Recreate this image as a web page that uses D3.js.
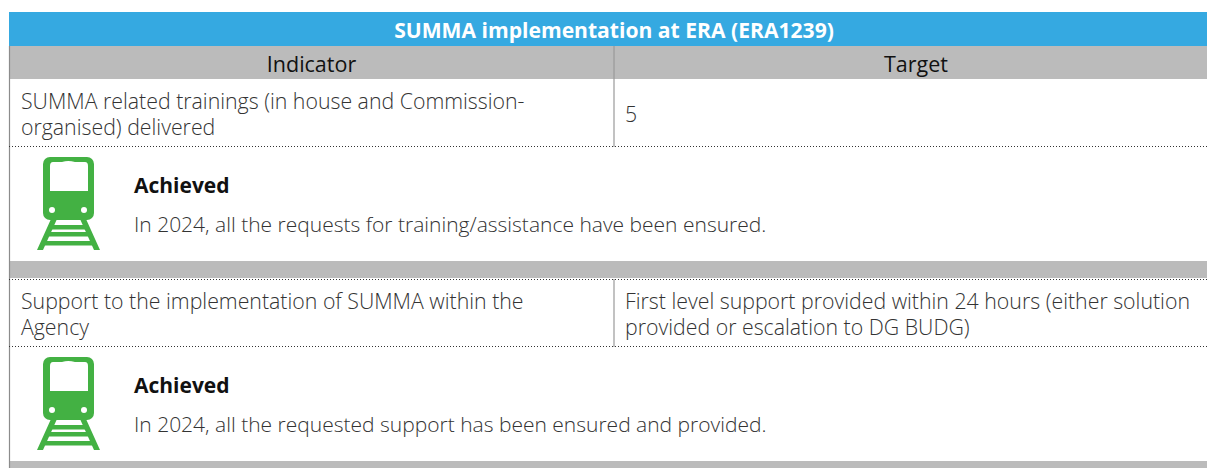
<!DOCTYPE html>
<html>
<head>
<meta charset="utf-8">
<script src="https://cdn.jsdelivr.net/npm/d3@7"></script>
<style>
  html, body { margin: 0; padding: 0; background: #fff; overflow: hidden; }
  text { font-family: "Open Sans", sans-serif; }
</style>
</head>
<body>
<div id="table"></div>
<script>
// table content
var title = "SUMMA implementation at ERA (ERA1239)"
var headers = ["Indicator", "Target"]
var indicators = [
  ["SUMMA related trainings (in house and Commission-", "organised) delivered"],
  ["Support to the implementation of SUMMA within the", "Agency"]
]
var targets = [
  ["5"],
  ["First level support provided within 24 hours (either solution", "provided or escalation to DG BUDG)"]
]
var statuses = ["Achieved", "Achieved"]
var comments = [
  "In 2024, all the requests for training/assistance have been ensured.",
  "In 2024, all the requested support has been ensured and provided."
]

var width = 1207, height = 468
var left = 9, colX = 614
var rowTop = [80, 280]  // top of each indicator row
var rowH = 67
var fs = 21.3

var svg = d3.select("#table").append("svg")
  .attr("width", width)
  .attr("height", height)
  .style("display", "block")

// title bar
svg.append("rect").attr("x", left).attr("y", 12).attr("width", width - left).attr("height", 34).attr("fill", "#35a9e1")
svg.append("text")
  .attr("x", 614).attr("y", 37.5)
  .attr("text-anchor", "middle")
  .attr("fill", "#fff")
  .style("font-size", "21.1px").style("font-weight", 700)
  .text(title)

// header row
svg.append("rect").attr("x", left).attr("y", 46).attr("width", width - left).attr("height", 33).attr("fill", "#bbbbbb")
svg.selectAll(".head")
  .data(headers)
  .enter().append("text")
    .attr("class", "head")
    .attr("x", function(d, i) { return i == 0 ? 311.5 : 916 })
    .attr("y", 71.5)
    .attr("text-anchor", "middle")
    .attr("fill", "#111")
    .style("font-size", "21.5px")
    .text(function(d) { return d })

// grey separator bands
var bands = [[261, 17], [461, 7]]
svg.selectAll(".band")
  .data(bands)
  .enter().append("rect")
    .attr("class", "band")
    .attr("x", left).attr("y", function(d) { return d[0] })
    .attr("width", width - left).attr("height", function(d) { return d[1] })
    .attr("fill", "#bbbbbb")

// frame lines
svg.append("line").attr("x1", left + 0.5).attr("x2", left + 0.5).attr("y1", 46).attr("y2", height)
  .attr("stroke", "#8c8c8c").attr("stroke-width", 1.2)
svg.append("line").attr("x1", colX).attr("x2", colX).attr("y1", 46).attr("y2", 147)
  .attr("stroke", "#999").attr("stroke-width", 1.2)
svg.append("line").attr("x1", colX).attr("x2", colX).attr("y1", 279).attr("y2", 347)
  .attr("stroke", "#999").attr("stroke-width", 1.2)

// one block per indicator
var blocks = svg.selectAll(".block")
  .data(d3.range(indicators.length))
  .enter().append("g")
    .attr("class", "block")
    .attr("transform", function(i) { return "translate(0," + rowTop[i] + ")" })

// dotted rules
blocks.append("line").attr("x1", left).attr("x2", width).attr("y1", -0.5).attr("y2", -0.5)
  .attr("stroke", function(i) { return i == 0 ? "none" : "#333" })
  .attr("stroke-dasharray", "1 2")
blocks.append("line").attr("x1", left).attr("x2", width).attr("y1", rowH - 0.5).attr("y2", rowH - 0.5)
  .attr("stroke", "#333")
  .attr("stroke-dasharray", "1 2")

function wrapCell(sel, lines, x) {
  sel.each(function(i) {
    var n = lines[i].length
    d3.select(this).selectAll("text.l" + x)
      .data(lines[i])
      .enter().append("text")
        .attr("class", "l" + x)
        .attr("x", x)
        .attr("y", function(d, k) { return n == 1 ? 42 : 29 + k * 26 })
        .attr("fill", "#333")
        .style("font-size", fs + "px")
        .style("font-weight", 300)
        .text(function(d) { return d })
  })
}
wrapCell(blocks, indicators, 21)
wrapCell(blocks, targets, 625)

blocks.append("text")
  .attr("x", 134).attr("y", 112.5)
  .attr("fill", "#111")
  .style("font-size", "21px").style("font-weight", 700)
  .text(function(i) { return statuses[i] })

blocks.append("text")
  .attr("x", 134).attr("y", 152)
  .attr("fill", "#333")
  .style("font-size", "21px").style("font-weight", 300)
  .text(function(i) { return comments[i] })

// train icon, origin at the block top
var icon = blocks.append("g").attr("transform", "translate(0,77)")
var green = "#43b143"
// rails
icon.append("path")
  .attr("d", "M51,62 L57,62 L43,93 L37,93 Z M80,62 L86,62 L100,93 L94,93 Z")
  .attr("fill", green)
// ties
icon.selectAll(".tie")
  .data([[68, 52, 85], [75, 49, 88], [84, 45, 92]])
  .enter().append("rect")
    .attr("class", "tie")
    .attr("x", function(d) { return d[1] })
    .attr("y", function(d) { return d[0] })
    .attr("width", function(d) { return d[2] - d[1] })
    .attr("height", 4.5)
    .attr("fill", green)
// body
icon.append("rect").attr("x", 43).attr("y", 0).attr("width", 51).attr("height", 63).attr("rx", 7).attr("fill", green)
icon.append("path")
  .attr("d", "M53,5 L62,5 Q68,3 75,5 L85,5 Q88,5 88,9 L88,34 L50,34 L50,9 Q50,5 53,5 Z")
  .attr("fill", "#fff")
icon.selectAll(".lamp")
  .data([52, 84])
  .enter().append("circle")
    .attr("class", "lamp")
    .attr("cx", function(d) { return d })
    .attr("cy", 53)
    .attr("r", 3)
    .attr("fill", "#fff")
</script>
</body>
</html>
